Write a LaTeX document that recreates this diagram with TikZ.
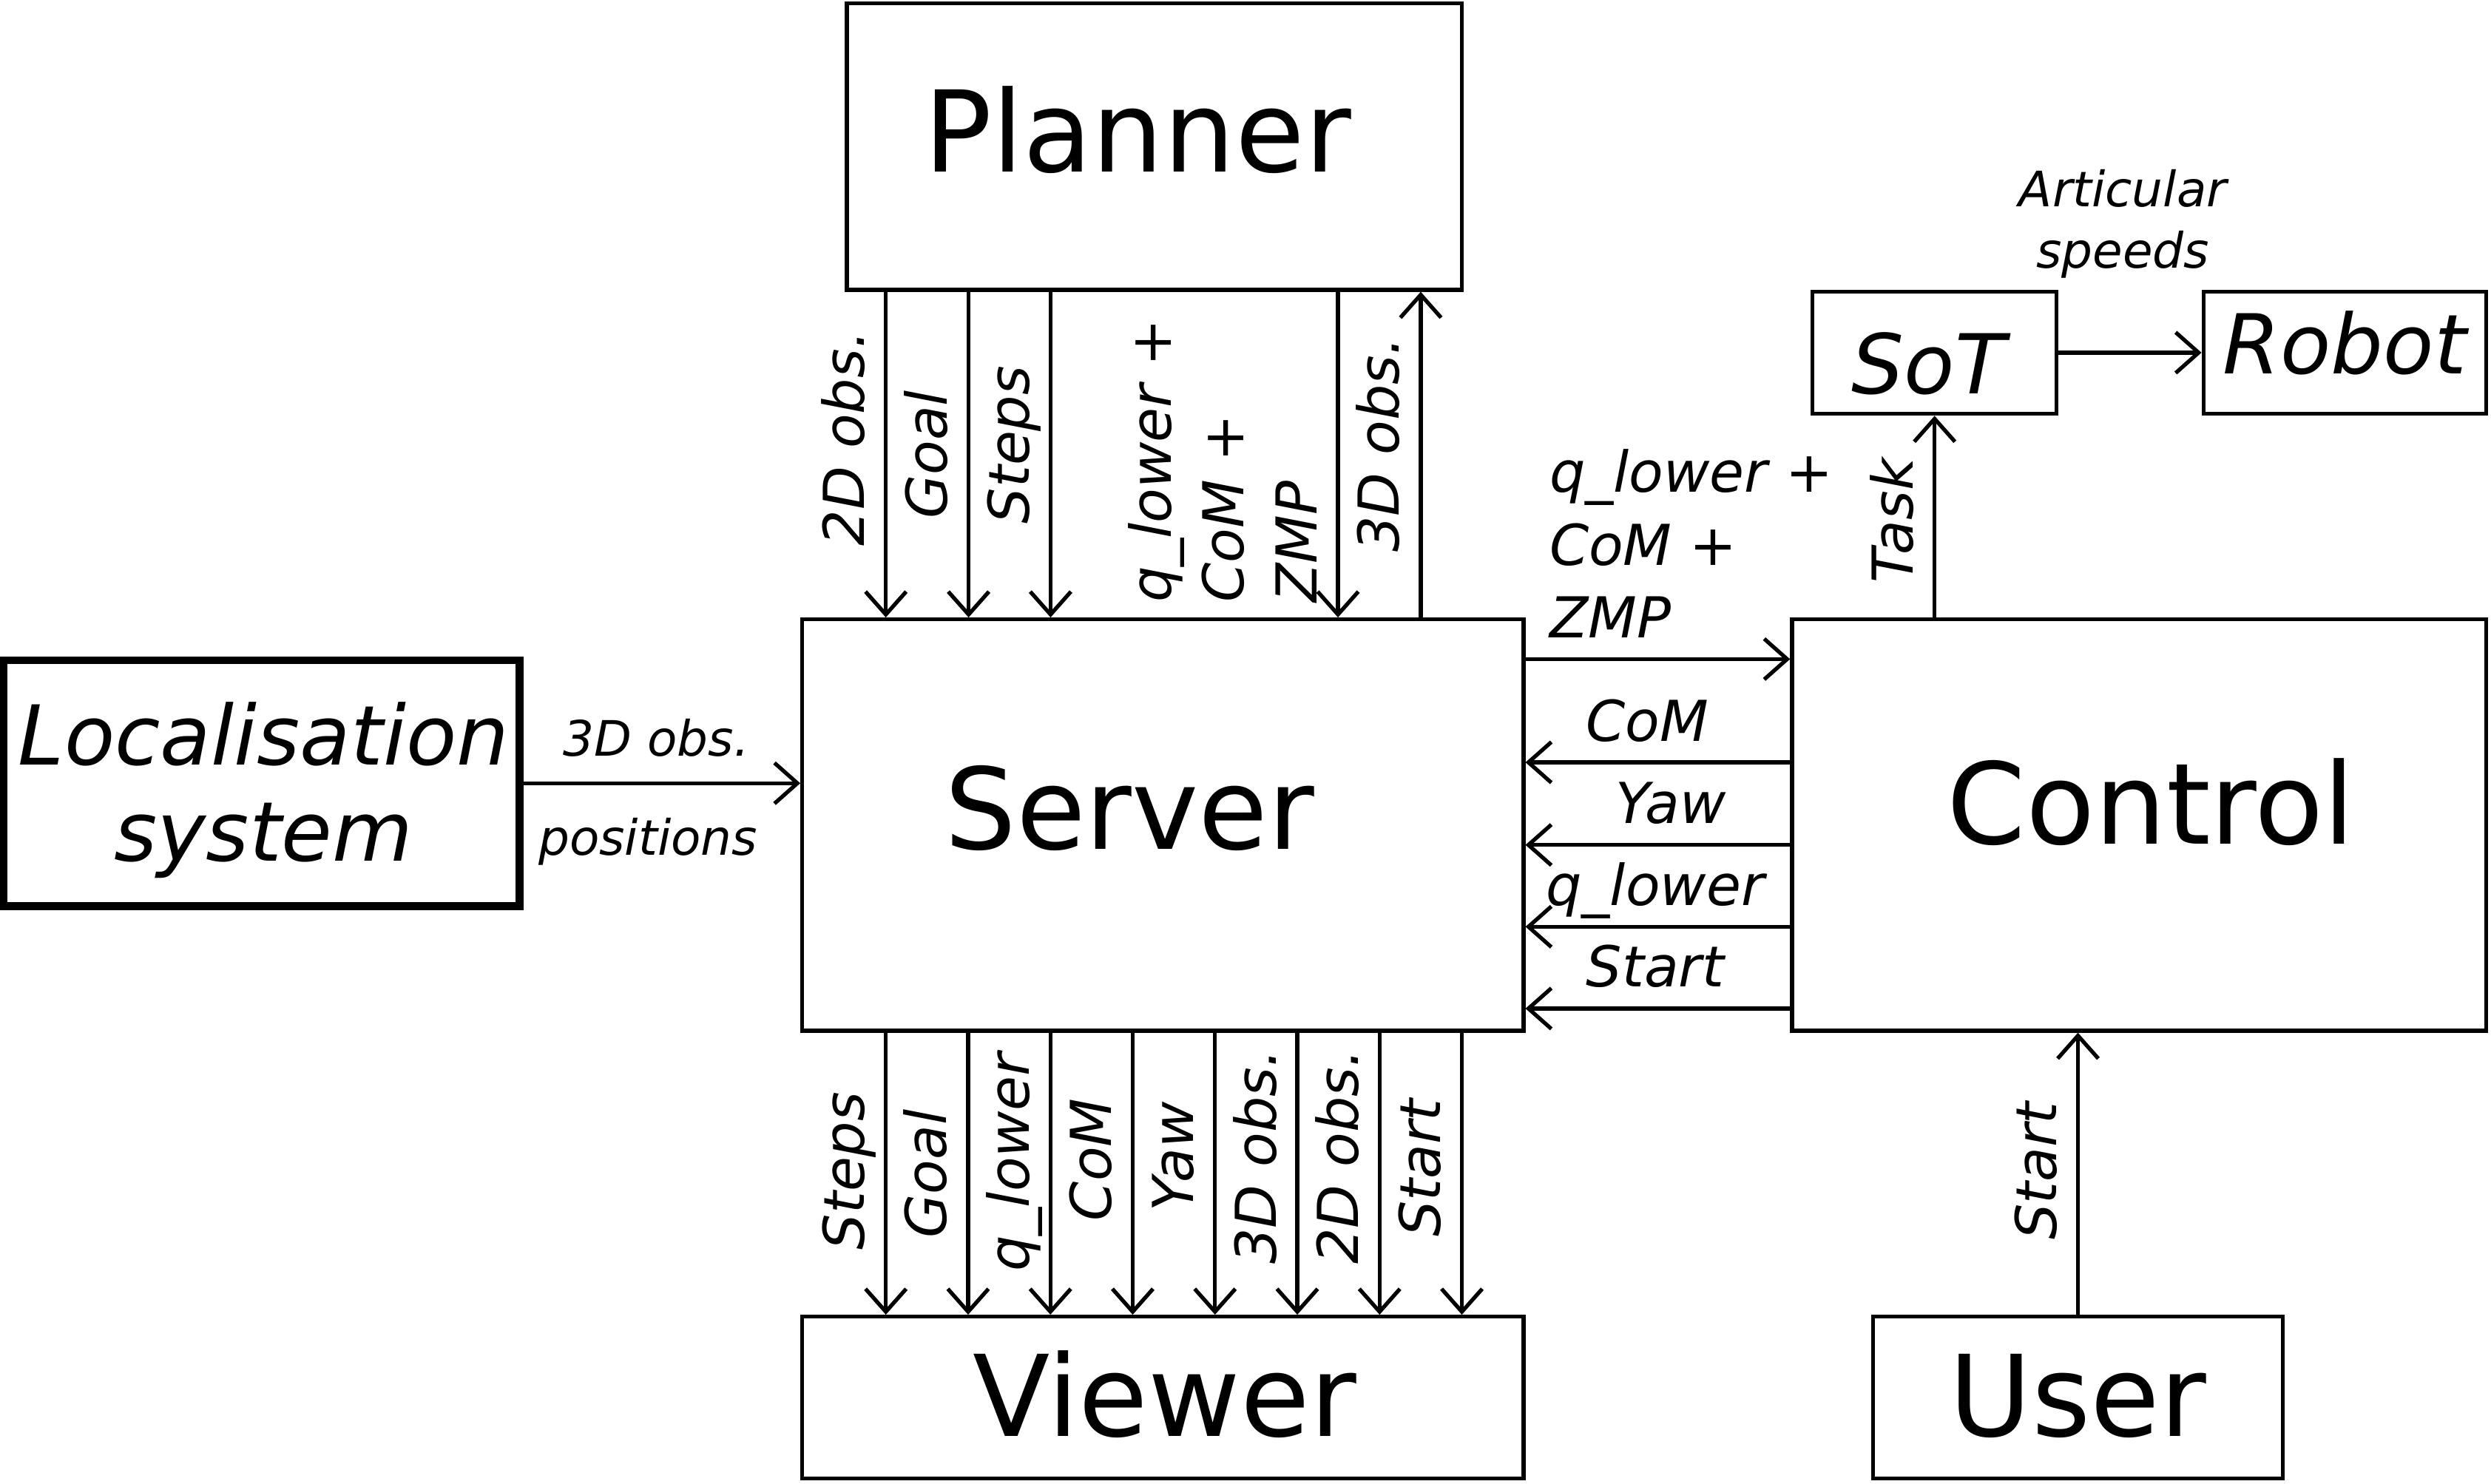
\documentclass[tikz,border=0pt]{standalone}
\usepackage{fontspec}
\setmainfont{DejaVu Sans}
\usetikzlibrary{arrows.meta, fit}

\tikzset{
  box/.style={draw, line width=1.5pt, inner sep=0pt},
  thickbox/.style={draw, line width=3pt, inner sep=0pt},
  arr/.style={line width=1.5pt, -{Straight Barb[length=3.1mm, width=5.5mm]}},
  bigtxt/.style={font=\fontsize{43.4}{52}\selectfont, inner sep=0pt},
  midtxt/.style={font=\fontsize{31.8}{37}\selectfont\itshape, inner sep=0pt, align=center},
  lab/.style={font=\fontsize{21.7}{28}\selectfont\itshape, text depth=0pt, inner xsep=0pt, inner ysep=7.5pt},
  vlab/.style={lab, rotate=90, anchor=south},
  hlab/.style={lab, anchor=south},
  smalllab/.style={font=\fontsize{18.8}{23.8}\selectfont\itshape, text depth=0pt, inner xsep=0pt}
}

\begin{document}
\begin{tikzpicture}[x=0.02148cm, y=-0.02148cm]
\useasboundingbox (0,0) rectangle (1568,934);

% blocks
\node[box, fit={(533,2) (920,182.5)}] (planner) {};
\node[box, fit={(505,390) (959,649)}] (server) {};
\node[box, fit={(1128,390) (1565,649)}] (control) {};
\node[box, fit={(505,829) (959,931)}] (viewer) {};
\node[box, fit={(1179,829) (1437,931)}] (user) {};
\node[box, fit={(1141,183.5) (1294.5,260.6)}] (sot) {};
\node[box, fit={(1387,183.5) (1565,260.6)}] (robot) {};
\node[thickbox, fit={(2.4,415.7) (327,570.6)}] (loc) {};

% block texts
\node[bigtxt] (plannertxt) at (716,82) {Planner};
\node[bigtxt] (servertxt) at (711,509) {Server};
\node[bigtxt] (controltxt) at (1354,505) {Control};
\node[bigtxt] (viewertxt) at (733,878) {Viewer};
\node[bigtxt] (usertxt) at (1308,879) {User};
\node[midtxt] (loctxt) at (166,497.7) {Localisation\\system};
\node[midtxt] (sottxt) at (1214,229) {SoT};
\node[midtxt] (robottxt) at (1476,216) {Robot};

% columns and rows of the links
\coordinate (tc1) at (557.6,0);
\coordinate (tc2) at (609.7,0);
\coordinate (tc3) at (661.3,0);
\coordinate (tc4) at (842.2,0);
\coordinate (tc5) at (894.3,0);
\coordinate (bc1) at (557.6,0);
\coordinate (bc2) at (609.4,0);
\coordinate (bc3) at (661.2,0);
\coordinate (bc4) at (713.0,0);
\coordinate (bc5) at (764.8,0);
\coordinate (bc6) at (816.6,0);
\coordinate (bc7) at (868.4,0);
\coordinate (bc8) at (920.2,0);
\coordinate (r0) at (0,415);
\coordinate (r1) at (0,480);
\coordinate (r2) at (0,532);
\coordinate (r3) at (0,583.5);
\coordinate (r4) at (0,635);

% planner <-> server
\draw[arr] (planner.south -| tc1) -- (server.north -| tc1) node[vlab, pos=.45] {2D obs.};
\draw[arr] (planner.south -| tc2) -- (server.north -| tc2) node[vlab, pos=.5] {Goal};
\draw[arr] (planner.south -| tc3) -- (server.north -| tc3) node[vlab, pos=.47] {Steps};
\draw[arr] (planner.south -| tc4) -- (server.north -| tc4)
  node[lab, rotate=90, anchor=south west, align=left, pos=.96] {q\_lower +\\CoM +\\ZMP};
\draw[arr] (server.north -| tc5) -- (planner.south -| tc5) node[vlab, pos=.53] {3D obs.};

% server -> viewer
\draw[arr] (server.south -| bc1) -- (viewer.north -| bc1) node[vlab, pos=.49] {Steps};
\draw[arr] (server.south -| bc2) -- (viewer.north -| bc2) node[vlab, pos=.5] {Goal};
\draw[arr] (server.south -| bc3) -- (viewer.north -| bc3) node[vlab, pos=.46] {q\_lower};
\draw[arr] (server.south -| bc4) -- (viewer.north -| bc4) node[vlab, pos=.45] {CoM};
\draw[arr] (server.south -| bc5) -- (viewer.north -| bc5) node[vlab, pos=.44] {Yaw};
\draw[arr] (server.south -| bc6) -- (viewer.north -| bc6) node[vlab, pos=.44] {3D obs.};
\draw[arr] (server.south -| bc7) -- (viewer.north -| bc7) node[vlab, pos=.44] {2D obs.};
\draw[arr] (server.south -| bc8) -- (viewer.north -| bc8) node[vlab, pos=.48] {Start};

% server <-> control
\draw[arr] (server.east |- r0) -- (control.west |- r0)
  node[lab, pos=0, anchor=south west, align=left, inner xsep=8.5pt] {q\_lower +\\CoM +\\ZMP};
\draw[arr] (control.west |- r1) -- (server.east |- r1) node[hlab, pos=.54] {CoM};
\draw[arr] (control.west |- r2) -- (server.east |- r2) node[hlab, pos=.45] {Yaw};
\draw[arr] (control.west |- r3) -- (server.east |- r3) node[hlab, pos=.51] {q\_lower};
\draw[arr] (control.west |- r4) -- (server.east |- r4) node[hlab, pos=.51] {Start};

% localisation -> server
\draw[arr] (loc.east) -- (loc.east -| server.west)
  node[smalllab, pos=.48, anchor=south, inner ysep=9.7pt] {3D obs.}
  node[smalllab, pos=.45, anchor=north, inner ysep=12.5pt] {positions};

% control -> sot -> robot
\draw[arr] (control.north -| sot.south) -- (sot.south) node[vlab, pos=.48] {Task};
\draw[arr] (sot.east) -- (sot.east -| robot.west)
  node[smalllab, align=center, pos=.45, anchor=south, inner ysep=31.7pt] {Articular\\speeds};

% user -> control
\draw[arr] (user.north) -- (user.north |- control.south) node[vlab, pos=.51] {Start};
\end{tikzpicture}
\end{document}
